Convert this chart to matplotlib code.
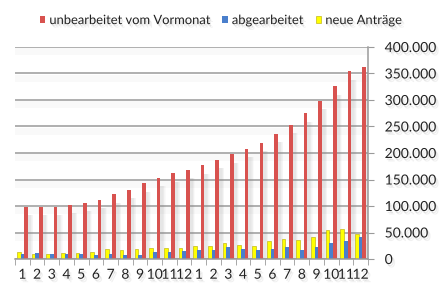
import matplotlib
matplotlib.use("Agg")
import matplotlib.pyplot as plt
import matplotlib.patheffects as pe
from matplotlib.patches import Patch
from matplotlib.ticker import FuncFormatter, MultipleLocator
import numpy as np

months = [str(m) for m in range(1, 13)] * 2
unbearbeitet = [99000, 99000, 99000, 102000, 106000, 112000, 122000, 131000, 143000,
                153000, 162000, 168000, 177000, 187000, 198000, 208000, 219000, 236000,
                253000, 275000, 299000, 326000, 354000, 363000]
abgearbeitet = [10000, 12000, 10000, 9000, 9000, 7500, 9000, 7500, 7500, 12500, 14000,
                16000, 17500, 16500, 22000, 19000, 16500, 19500, 22500, 16500, 22500,
                31000, 34500, 42000]
neue = [14000, 10000, 10000, 12000, 12000, 14000, 19000, 17000, 19000, 20000, 21000,
        20000, 24500, 24500, 31000, 26000, 24500, 34500, 37500, 36000, 42000, 54500,
        56500, 46500]
labels = ["unbearbeitet vom Vormonat", "abgearbeitet", "neue Anträge"]

RED = "#D8524F"
BLUE = "#4A7FCC"
YEL = "#FFFF00"

plt.rcParams['font.family'] = ['Lato', 'DejaVu Sans']

fig = plt.figure(figsize=(4.41, 3.0), dpi=100)
ax = fig.add_axes([15/441, 1-259/300, (368-15)/441, (259-47)/300])

x = np.arange(len(months))
w = 0.25
drop = 12000

# soft drop shadows (blurred look via stacked translucent bars)
for k in [0.0, 0.08, 0.16, 0.24, 0.32]:
    ax.bar(x + w + 0.2, np.array(unbearbeitet) - drop, bottom=-4000, width=w + k,
           color="#8c8c8c", alpha=0.045, lw=0, zorder=1)
    ax.bar(x + 0.2, np.maximum(np.array(abgearbeitet) - drop, 0) + 4000, bottom=-4000,
           width=w + k, color="#8c8c8c", alpha=0.03, lw=0, zorder=1)

ax.bar(x - w, neue, width=w, color=YEL, edgecolor="#B5A800", lw=0.4, zorder=3)
ax.bar(x, abgearbeitet, width=w, color=BLUE, lw=0, zorder=3)
ax.bar(x + w, unbearbeitet, width=w, color=RED, lw=0, zorder=3)

ax.set_xlim(-0.5, len(months) - 0.5)
ax.set_ylim(0, 400000)
ax.yaxis.set_major_locator(MultipleLocator(50000))
ax.yaxis.set_major_formatter(FuncFormatter(lambda v, p: f"{v:,.0f}".replace(",", ".")))
ax.yaxis.tick_right()
ax.grid(axis="y", color="#9A9A9A", lw=1.1, zorder=0,
        path_effects=[pe.SimpleLineShadow(offset=(0, -3), shadow_color="#bbbbbb", alpha=0.08, linewidth=5),
                      pe.Normal()])
ax.set_axisbelow(True)

for s in ["top", "left"]:
    ax.spines[s].set_visible(False)
for s in ["right", "bottom"]:
    ax.spines[s].set_color("#9A9A9A")
    ax.spines[s].set_linewidth(1.1)
    ax.spines[s].set_zorder(4)

ax.set_xticks(x)
ax.set_xticklabels(months)
ax.set_xticks(np.arange(-0.5, len(months)), minor=True)
ax.tick_params(axis="x", which="major", length=0, labelsize=10, pad=7, colors="#222222")
ax.tick_params(axis="x", which="minor", length=4, color="#9A9A9A", direction="out")
ax.tick_params(axis="y", length=4, color="#9A9A9A", labelsize=10, pad=8, colors="#222222")

shadow = [pe.SimplePatchShadow(offset=(1.0, -1.5), shadow_rgbFace="#777777", alpha=0.15),
          pe.SimplePatchShadow(offset=(2.0, -2.5), shadow_rgbFace="#777777", alpha=0.10),
          pe.Normal()]
for t in ax.get_xticklabels() + ax.get_yticklabels():
    t.set_path_effects(shadow)

handles = [Patch(facecolor=RED), Patch(facecolor=BLUE), Patch(facecolor=YEL, edgecolor="#B5A800", lw=0.4)]
leg = fig.legend(handles, labels, loc="center", bbox_to_anchor=(0.5, 0.933), ncol=3,
                 frameon=False, fontsize=9.3, handlelength=0.45, handleheight=0.45,
                 handletextpad=0.3, columnspacing=1.0)
for t in leg.get_texts():
    t.set_color("#222222")
    t.set_path_effects(shadow)

fig.savefig("out.png", dpi=100, facecolor="white")
